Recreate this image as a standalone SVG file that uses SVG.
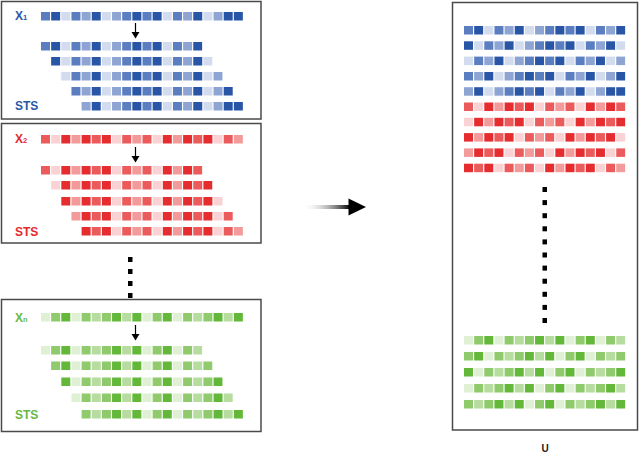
<svg xmlns="http://www.w3.org/2000/svg" xmlns:xlink="http://www.w3.org/1999/xlink" width="640" height="453" viewBox="0 0 640 453">
<style>
.box{fill:#fff;stroke:#4a4a4a;stroke-width:1.5}
.lb{font-family:"Liberation Sans",Arial,sans-serif;font-weight:bold;font-size:12px}
.tb{fill:#2a58a8}.tr{fill:#e5282c}.tg{fill:#68b843}
.bd{fill:#2855a5}.bm{fill:#5b7ec0}.bs{fill:#8ea5d3}.bl{fill:#d2dcee}
.rd{fill:#e52c2f}.rm{fill:#ec5b5c}.rs{fill:#f39a9a}.rl{fill:#fbd2d3}
.gd{fill:#63b83a}.gm{fill:#8fca6c}.gs{fill:#b7dca0}.gl{fill:#e0f0d5}
.dot{fill:#000}
</style>
<defs>
<linearGradient id="grad" x1="0" y1="0" x2="1" y2="0">
<stop offset="0" stop-color="#fff" stop-opacity="0"/>
<stop offset="1" stop-color="#000"/>
</linearGradient>
<clipPath id="w0" clipPathUnits="userSpaceOnUse"><rect x="-0.5" y="-1" width="162" height="12"/></clipPath>
<clipPath id="w1" clipPathUnits="userSpaceOnUse"><rect x="9.65" y="-1" width="162" height="12"/></clipPath>
<clipPath id="w2" clipPathUnits="userSpaceOnUse"><rect x="19.8" y="-1" width="162" height="12"/></clipPath>
<clipPath id="w3" clipPathUnits="userSpaceOnUse"><rect x="29.95" y="-1" width="162" height="12"/></clipPath>
<clipPath id="w4" clipPathUnits="userSpaceOnUse"><rect x="40.1" y="-1" width="162" height="12"/></clipPath>
<g id="B">
<rect class="bm" x="0" width="9" height="8.5"/><rect class="bd" x="10.15" width="9" height="8.5"/><rect class="bl" x="20.3" width="9" height="8.5"/><rect class="bm" x="30.45" width="9" height="8.5"/><rect class="bs" x="40.6" width="9" height="8.5"/>
<rect class="bd" x="50.75" width="9" height="8.5"/><rect class="bl" x="60.9" width="9" height="8.5"/><rect class="bs" x="71.05" width="9" height="8.5"/><rect class="bm" x="81.2" width="9" height="8.5"/><rect class="bd" x="91.35" width="9" height="8.5"/>
<rect class="bm" x="101.5" width="9" height="8.5"/><rect class="bd" x="111.65" width="9" height="8.5"/><rect class="bl" x="121.8" width="9" height="8.5"/><rect class="bm" x="131.95" width="9" height="8.5"/><rect class="bs" x="142.1" width="9" height="8.5"/>
<rect class="bd" x="152.25" width="9" height="8.5"/><rect class="bl" x="162.4" width="9" height="8.5"/><rect class="bs" x="172.55" width="9" height="8.5"/><rect class="bd" x="182.7" width="9" height="8.5"/><rect class="bd" x="192.85" width="9" height="8.5"/>
</g>
<g id="R">
<rect class="rm" x="0" width="9" height="8.5"/><rect class="rl" x="10.15" width="9" height="8.5"/><rect class="rd" x="20.3" width="9" height="8.5"/><rect class="rs" x="30.45" width="9" height="8.5"/><rect class="rd" x="40.6" width="9" height="8.5"/>
<rect class="rm" x="50.75" width="9" height="8.5"/><rect class="rd" x="60.9" width="9" height="8.5"/><rect class="rl" x="71.05" width="9" height="8.5"/><rect class="rm" x="81.2" width="9" height="8.5"/><rect class="rs" x="91.35" width="9" height="8.5"/>
<rect class="rm" x="101.5" width="9" height="8.5"/><rect class="rl" x="111.65" width="9" height="8.5"/><rect class="rd" x="121.8" width="9" height="8.5"/><rect class="rs" x="131.95" width="9" height="8.5"/><rect class="rd" x="142.1" width="9" height="8.5"/>
<rect class="rm" x="152.25" width="9" height="8.5"/><rect class="rd" x="162.4" width="9" height="8.5"/><rect class="rl" x="172.55" width="9" height="8.5"/><rect class="rm" x="182.7" width="9" height="8.5"/><rect class="rs" x="192.85" width="9" height="8.5"/>
</g>
<g id="G">
<rect class="gl" x="0" width="9" height="8.5"/><rect class="gm" x="10.15" width="9" height="8.5"/><rect class="gd" x="20.3" width="9" height="8.5"/><rect class="gl" x="30.45" width="9" height="8.5"/><rect class="gm" x="40.6" width="9" height="8.5"/>
<rect class="gs" x="50.75" width="9" height="8.5"/><rect class="gm" x="60.9" width="9" height="8.5"/><rect class="gd" x="71.05" width="9" height="8.5"/><rect class="gs" x="81.2" width="9" height="8.5"/><rect class="gd" x="91.35" width="9" height="8.5"/>
<rect class="gl" x="101.5" width="9" height="8.5"/><rect class="gm" x="111.65" width="9" height="8.5"/><rect class="gd" x="121.8" width="9" height="8.5"/><rect class="gl" x="131.95" width="9" height="8.5"/><rect class="gm" x="142.1" width="9" height="8.5"/>
<rect class="gs" x="152.25" width="9" height="8.5"/><rect class="gm" x="162.4" width="9" height="8.5"/><rect class="gd" x="172.55" width="9" height="8.5"/><rect class="gs" x="182.7" width="9" height="8.5"/><rect class="gd" x="192.85" width="9" height="8.5"/>
</g>
</defs>
<rect width="640" height="453" fill="#fff"/>

<g id="series1">
<rect class="box" x="1.5" y="1.5" width="259.5" height="117.5"/>
<text class="lb tb" x="15" y="19.5">X<tspan font-size="7.5">1</tspan></text>
<use xlink:href="#B" href="#B" transform="translate(41,12)"/>
<use xlink:href="#B" href="#B" transform="translate(41,42)" clip-path="url(#w0)"/>
<use xlink:href="#B" href="#B" transform="translate(41,57)" clip-path="url(#w1)"/>
<use xlink:href="#B" href="#B" transform="translate(41,72)" clip-path="url(#w2)"/>
<use xlink:href="#B" href="#B" transform="translate(41,87)" clip-path="url(#w3)"/>
<use xlink:href="#B" href="#B" transform="translate(41,102)" clip-path="url(#w4)"/>
<text class="lb tb" x="15" y="110">STS</text>
<line x1="135.5" y1="23" x2="135.5" y2="33" stroke="#000" stroke-width="1.2"/>
<polygon points="131.5,32 139.5,32 135.5,38.5" fill="#000"/>
</g>

<g id="series2">
<rect class="box" x="1.5" y="123.5" width="259.5" height="119.5"/>
<text class="lb tr" x="15" y="143">X<tspan font-size="7.5">2</tspan></text>
<use xlink:href="#R" href="#R" transform="translate(41,135)"/>
<use xlink:href="#R" href="#R" transform="translate(41,166)" clip-path="url(#w0)"/>
<use xlink:href="#R" href="#R" transform="translate(41,181)" clip-path="url(#w1)"/>
<use xlink:href="#R" href="#R" transform="translate(41,197)" clip-path="url(#w2)"/>
<use xlink:href="#R" href="#R" transform="translate(41,212)" clip-path="url(#w3)"/>
<use xlink:href="#R" href="#R" transform="translate(41,227)" clip-path="url(#w4)"/>
<text class="lb tr" x="15" y="236">STS</text>
<line x1="135.5" y1="147" x2="135.5" y2="157" stroke="#000" stroke-width="1.2"/>
<polygon points="131.5,156 139.5,156 135.5,162.5" fill="#000"/>
</g>

<g id="ellipsis-left">
<rect class="dot" x="128" y="257" width="4.5" height="5"/>
<rect class="dot" x="128" y="269" width="4.5" height="5"/>
<rect class="dot" x="128" y="281" width="4.5" height="5"/>
<rect class="dot" x="128" y="293" width="4.5" height="5"/>
</g>

<g id="seriesN">
<rect class="box" x="1.5" y="299.5" width="259.5" height="132"/>
<text class="lb tg" x="15" y="321.5">X<tspan font-size="7.5">n</tspan></text>
<use xlink:href="#G" href="#G" transform="translate(41,313)"/>
<use xlink:href="#G" href="#G" transform="translate(41,346)" clip-path="url(#w0)"/>
<use xlink:href="#G" href="#G" transform="translate(41,361.5)" clip-path="url(#w1)"/>
<use xlink:href="#G" href="#G" transform="translate(41,377.5)" clip-path="url(#w2)"/>
<use xlink:href="#G" href="#G" transform="translate(41,393.5)" clip-path="url(#w3)"/>
<use xlink:href="#G" href="#G" transform="translate(41,410)" clip-path="url(#w4)"/>
<text class="lb tg" x="15" y="418.5">STS</text>
<line x1="135.5" y1="325" x2="135.5" y2="335" stroke="#000" stroke-width="1.2"/>
<polygon points="131.5,334 139.5,334 135.5,340.5" fill="#000"/>
</g>

<g id="connectors">
<rect x="302" y="205" width="48" height="4" fill="url(#grad)"/>
<polygon points="348.5,198.5 366,207 348.5,215.5" fill="#000"/>
</g>

<g id="matrixU">
<rect class="box" x="452.5" y="2.5" width="185" height="427.5"/>
<use xlink:href="#B" href="#B" transform="translate(464,26)" clip-path="url(#w0)"/>
<use xlink:href="#B" href="#B" transform="translate(453.85,41.3)" clip-path="url(#w1)"/>
<use xlink:href="#B" href="#B" transform="translate(443.7,56.6)" clip-path="url(#w2)"/>
<use xlink:href="#B" href="#B" transform="translate(433.55,72)" clip-path="url(#w3)"/>
<use xlink:href="#B" href="#B" transform="translate(423.4,87.2)" clip-path="url(#w4)"/>
<use xlink:href="#R" href="#R" transform="translate(464,102.5)" clip-path="url(#w0)"/>
<use xlink:href="#R" href="#R" transform="translate(453.85,117.8)" clip-path="url(#w1)"/>
<use xlink:href="#R" href="#R" transform="translate(443.7,133.1)" clip-path="url(#w2)"/>
<use xlink:href="#R" href="#R" transform="translate(433.55,148.4)" clip-path="url(#w3)"/>
<use xlink:href="#R" href="#R" transform="translate(423.4,163.7)" clip-path="url(#w4)"/>
<use xlink:href="#G" href="#G" transform="translate(464,336)" clip-path="url(#w0)"/>
<use xlink:href="#G" href="#G" transform="translate(453.85,352)" clip-path="url(#w1)"/>
<use xlink:href="#G" href="#G" transform="translate(443.7,368)" clip-path="url(#w2)"/>
<use xlink:href="#G" href="#G" transform="translate(433.55,384)" clip-path="url(#w3)"/>
<use xlink:href="#G" href="#G" transform="translate(423.4,400)" clip-path="url(#w4)"/>
<rect class="dot" x="542.5" y="187" width="4.5" height="5"/>
<rect class="dot" x="542.5" y="200.1" width="4.5" height="5"/>
<rect class="dot" x="542.5" y="213.2" width="4.5" height="5"/>
<rect class="dot" x="542.5" y="226.3" width="4.5" height="5"/>
<rect class="dot" x="542.5" y="239.4" width="4.5" height="5"/>
<rect class="dot" x="542.5" y="252.5" width="4.5" height="5"/>
<rect class="dot" x="542.5" y="265.6" width="4.5" height="5"/>
<rect class="dot" x="542.5" y="278.7" width="4.5" height="5"/>
<rect class="dot" x="542.5" y="291.8" width="4.5" height="5"/>
<rect class="dot" x="542.5" y="304.9" width="4.5" height="5"/>
<rect class="dot" x="542.5" y="318" width="4.5" height="5"/>
<text x="545" y="452" text-anchor="middle" font-family="Liberation Sans, Arial, sans-serif" font-weight="bold" font-size="10" fill="#222">U</text>
</g>
</svg>
